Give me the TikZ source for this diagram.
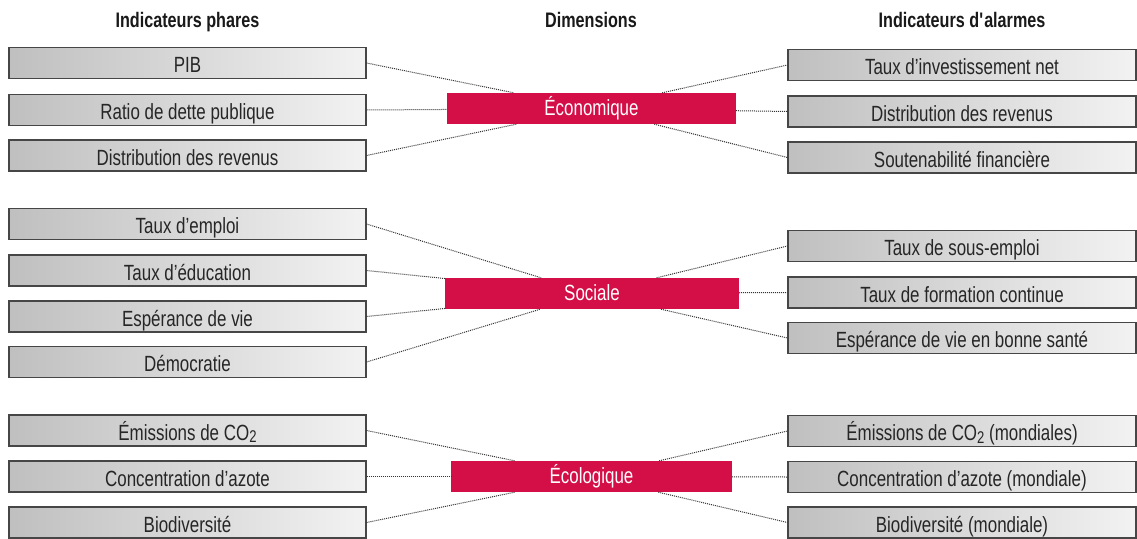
\documentclass[tikz,border=0pt]{standalone}
\usepackage{fontspec}
\setmainfont{Liberation Sans}[FakeStretch=0.77]
\definecolor{dimred}{RGB}{212,14,70}
\definecolor{boxline}{RGB}{70,70,70}
\newcommand{\subtwo}{\raisebox{-2.5pt}{\fontsize{17}{20}\selectfont 2}}
\begin{document}
\begin{tikzpicture}[x=1pt,y=-1pt,
  ind/.style={draw=boxline, line width=1.1pt, left color=black!25, right color=black!5,
    minimum height=31pt, inner sep=0pt, text height=19pt, text depth=0pt,
    font=\fontsize{22}{26}\selectfont, text=black!85},
  indl/.style={ind, minimum width=357pt},
  indr/.style={ind, minimum width=348pt},
  dimbox/.style={fill=dimred, minimum height=31pt, inner sep=0pt, text height=13pt, text depth=0pt,
    text=white, font=\fontsize{22}{26}\selectfont},
  head/.style={font=\bfseries\fontsize{21}{24}\selectfont, anchor=base, text=black!90, inner sep=0pt},
  link/.style={densely dotted, line width=1pt, black!80}]
\useasboundingbox (0,0) rectangle (1137,538);

% headers
\node[head] (h1) at (187.5,27.5) {Indicateurs phares};
\node[head] (h2) at (591,27.5) {Dimensions};
\node[head] (h3) at (962,27.5) {Indicateurs d\textquotesingle alarmes};

% dimensions
\node[dimbox, minimum width=289pt] (eco) at (591.5,108.5) {Économique};
\node[dimbox, minimum width=294pt] (soc) at (592,293.5) {Sociale};
\node[dimbox, minimum width=281pt] (ecl) at (591.5,476.5) {Écologique};

% left indicators
\node[indl] (l1) at (187.5,63) {PIB};
\node[indl] (l2) at (187.5,110) {Ratio de dette publique};
\node[indl] (l3) at (187.5,155.5) {Distribution des revenus};
\node[indl] (l4) at (187.5,224) {Taux d’emploi};
\node[indl] (l5) at (187.5,270.5) {Taux d’éducation};
\node[indl] (l6) at (187.5,316.5) {Espérance de vie};
\node[indl] (l7) at (187.5,362) {Démocratie};
\node[indl] (l8) at (187.5,430.5) {Émissions de CO\subtwo};
\node[indl] (l9) at (187.5,476.5) {Concentration d’azote};
\node[indl] (l10) at (187.5,522.5) {Biodiversité};

% right indicators
\node[indr] (r1) at (962,65) {Taux d’investissement net};
\node[indr] (r2) at (962,111.5) {Distribution des revenus};
\node[indr] (r3) at (962,157.5) {Soutenabilité financière};
\node[indr] (r4) at (962,246) {Taux de sous-emploi};
\node[indr] (r5) at (962,292.5) {Taux de formation continue};
\node[indr] (r6) at (962,338) {Espérance de vie en bonne santé};
\node[indr] (r7) at (962,431) {Émissions de CO\subtwo{} (mondiales)};
\node[indr] (r8) at (962,477) {Concentration d’azote (mondiale)};
\node[indr] (r9) at (962,522.5) {Biodiversité (mondiale)};

% connectors
\foreach \a in {l1,l2,l3} \draw[link] (\a.east) -- (eco);
\foreach \a in {l4,l5,l6,l7} \draw[link] (\a.east) -- (soc);
\foreach \a in {l8,l9,l10} \draw[link] (\a.east) -- (ecl);
\foreach \b in {r1,r2,r3} \draw[link] (eco) -- (\b.west);
\foreach \b in {r4,r5,r6} \draw[link] (soc) -- (\b.west);
\foreach \b in {r7,r8,r9} \draw[link] (ecl) -- (\b.west);
\end{tikzpicture}
\end{document}
